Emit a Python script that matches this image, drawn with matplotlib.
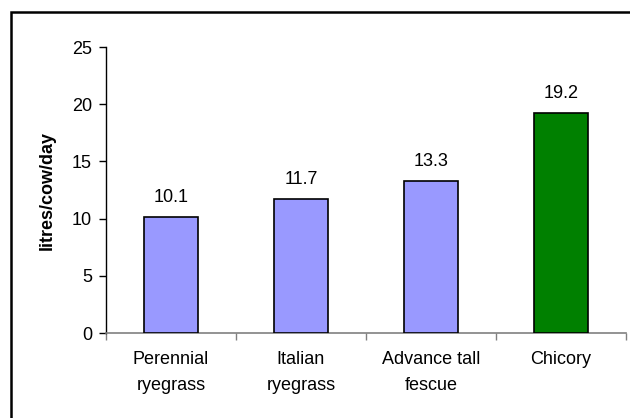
import numpy as np
import matplotlib.pyplot as plt
from matplotlib.patches import Rectangle

plt.rcParams['font.family'] = ['Liberation Sans', 'DejaVu Sans']

# milk yield per pasture type
pastures = ['Perennial\nryegrass', 'Italian\nryegrass', 'Advance tall\nfescue', 'Chicory']
yields = [10.1, 11.7, 13.3, 19.2]
bar_colors = ['#9999FF', '#9999FF', '#9999FF', '#008000']

fs = 13

fig = plt.figure(figsize=(6.3, 4.18), dpi=100)
ax = fig.add_axes([106/630, 1-333/418, 520/630, 286/418])

x = np.arange(len(pastures))
ax.bar(x, yields, width=0.41, color=bar_colors, edgecolor='black', linewidth=1.2, zorder=3)

for xi, v in zip(x, yields):
    ax.annotate(f'{v:.1f}', (xi, v), xytext=(0, 8), textcoords='offset points',
                ha='center', va='bottom', fontsize=fs)

ax.set_xlim(-0.5, len(pastures) - 0.5)
ax.set_ylim(0, 25)
ax.set_yticks(range(0, 26, 5))
ax.tick_params(axis='y', direction='out', length=5, width=1, labelsize=fs, pad=5)

# category boundaries get the tick marks, names sit between them
ax.set_xticks(np.arange(-0.5, len(pastures)), labels=[])
ax.set_xticks(x, labels=pastures, minor=True)
ax.tick_params(axis='x', which='major', direction='out', length=5, width=1, color='#808080')
ax.tick_params(axis='x', which='minor', length=0, labelsize=fs, pad=13)
for lbl in ax.get_xticklabels(minor=True):
    lbl.set_linespacing(1.65)

ax.spines['top'].set_visible(False)
ax.spines['right'].set_visible(False)
ax.spines['bottom'].set_color('#808080')
ax.spines['bottom'].set_linewidth(1.2)
ax.spines['left'].set_linewidth(1)

ax.set_ylabel('litres/cow/day', fontsize=fs, fontweight='bold', labelpad=12)

# outer chart frame
fig.patches.append(Rectangle((11/630, -0.1), 1.2, 1-12/418+0.1, transform=fig.transFigure,
                             fill=False, edgecolor='black', linewidth=1.8))

fig.savefig('out.png', dpi=100)
